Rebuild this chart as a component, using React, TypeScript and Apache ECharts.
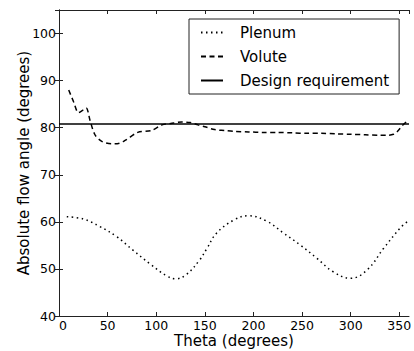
import React, { useEffect, useRef } from "react";
import * as echarts from "echarts";

const voluteTheta = [10, 15, 20, 25, 28, 32, 37, 44, 54, 60, 68, 81, 95, 106, 115, 126, 135, 143, 150, 160, 170, 181, 195, 210, 225, 240, 255, 270, 285, 300, 315, 330, 338, 344, 348, 353, 357];
const voluteAngle = [88, 85.5, 83.2, 83.8, 84.2, 81.5, 78.5, 77.1, 76.6, 76.6, 77.3, 79, 79.4, 80.6, 80.9, 81.2, 81.1, 80.6, 80.2, 79.6, 79.4, 79.2, 79.1, 79.0, 79.0, 78.9, 78.8, 78.8, 78.7, 78.6, 78.5, 78.4, 78.4, 78.6, 79.2, 80.4, 81.2];

const plenumTheta = [8, 25, 42, 59, 76, 94, 111, 120, 131, 145, 152, 162, 180, 195, 214, 231, 248, 265, 282, 300, 317, 334, 351, 358];
const plenumAngle = [61.1, 60.6, 59, 56.9, 54, 51, 48.5, 47.9, 48.8, 52, 54.3, 57.6, 60.4, 61.3, 60.1, 57.6, 55.1, 52.3, 49.4, 48, 49.8, 54.4, 58.7, 60];

const designTheta = [0, 360];
const designAngle = [80.8, 80.8];

const xTicks = { min: 0, max: 360, interval: 50 };
const yTicks = { min: 40, max: 105, interval: 10 };

const FONT = "DejaVu Sans";

export default function App() {
  const ref = useRef<HTMLDivElement>(null);
  useEffect(() => {
    const chart = echarts.init(ref.current!, null, { renderer: "svg" });
    const zip = (xs: number[], ys: number[]) => xs.map((x, i) => [x, ys[i]]);
    const frame = { show: true, lineStyle: { color: "#222", width: 1 } };
    const tick = { show: true, inside: true, length: 4, lineStyle: { color: "#222", width: 1 } };
    chart.setOption({
      animation: false,
      backgroundColor: "#fff",
      textStyle: { fontFamily: FONT, color: "#000" },
      grid: { left: 59, right: 5, top: 10, bottom: 35, containLabel: false, outerBoundsMode: "none" },
      legend: {
        orient: "vertical",
        left: 189,
        top: 19,
        padding: [6, 10, 6, 11],
        itemGap: 9,
        itemWidth: 22,
        itemHeight: 14,
        borderColor: "#222",
        borderWidth: 1,
        backgroundColor: "#fff",
        itemStyle: { opacity: 0 },
        textStyle: { fontFamily: FONT, fontSize: 15, color: "#000", padding: [0, 0, 0, 12] },
        data: ["Plenum", "Volute", "Design requirement"],
      },
      xAxis: [
        {
          type: "value", position: "bottom", ...xTicks,
          axisLine: frame, axisTick: tick, splitLine: { show: false },
          axisLabel: {
            fontFamily: FONT, fontSize: 12.5, lineHeight: 10, color: "#000", margin: 4,
            showMaxLabel: false, alignMinLabel: "left",
          },
          name: "Theta (degrees)", nameLocation: "middle", nameGap: 17, nameMoveOverlap: false,
          nameTextStyle: { fontFamily: FONT, fontSize: 15, lineHeight: 15, color: "#000" },
        },
        {
          type: "value", position: "top", ...xTicks,
          axisLine: frame, axisTick: tick, splitLine: { show: false }, axisLabel: { show: false },
        },
      ],
      yAxis: [
        {
          type: "value", position: "left", ...yTicks,
          axisLine: frame, axisTick: tick, splitLine: { show: false },
          axisLabel: { fontFamily: FONT, fontSize: 12.5, lineHeight: 8, color: "#000", margin: 3, showMaxLabel: false },
          name: "Absolute flow angle (degrees)", nameLocation: "middle", nameGap: 28, nameMoveOverlap: false,
          nameTextStyle: { fontFamily: FONT, fontSize: 15, color: "#000" },
        },
        {
          type: "value", position: "right", ...yTicks,
          axisLine: frame, axisTick: tick, splitLine: { show: false }, axisLabel: { show: false },
        },
      ],
      series: [
        {
          name: "Plenum", type: "line", data: zip(plenumTheta, plenumAngle), smooth: 0.4,
          showSymbol: false, symbol: "none", color: "#000",
          lineStyle: { color: "#000", width: 1.5, type: [1.5, 3.5] },
        },
        {
          name: "Volute", type: "line", data: zip(voluteTheta, voluteAngle), smooth: 0.3,
          showSymbol: false, symbol: "none", color: "#000",
          lineStyle: { color: "#000", width: 1.5, type: [5, 3.5] },
        },
        {
          name: "Design requirement", type: "line", data: zip(designTheta, designAngle),
          showSymbol: false, symbol: "none", color: "#000",
          lineStyle: { color: "#000", width: 1.5, type: "solid" },
        },
      ],
    });
    return () => chart.dispose();
  }, []);
  return (
    <div
      ref={ref}
      style={{ position: "fixed", left: 0, top: 0, width: 414, height: 351, background: "#fff" }}
    />
  );
}
